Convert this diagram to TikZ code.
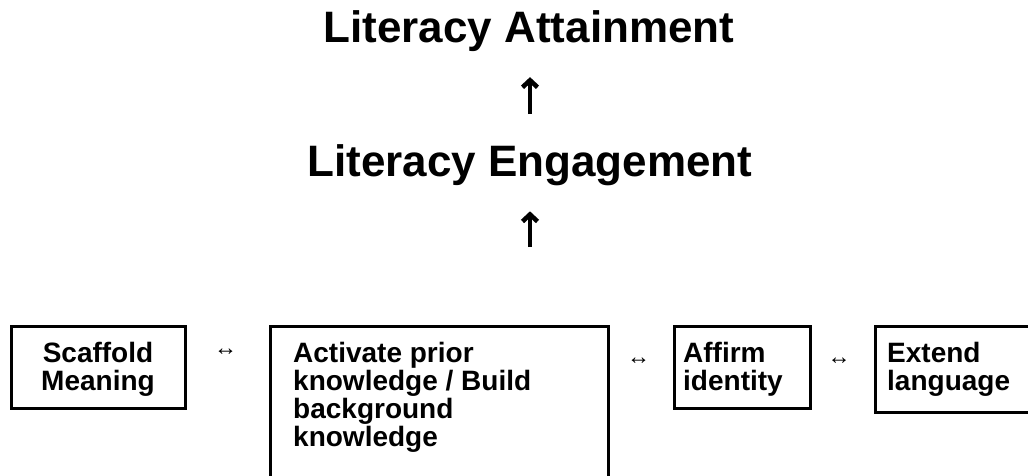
\documentclass[tikz,border=0pt]{standalone}
\usepackage{fontspec}
\setmainfont{Liberation Sans}
\usetikzlibrary{arrows.meta}
\begin{document}
\begin{tikzpicture}[x=1pt,y=-1pt,
  box/.style={draw, line width=2.8pt, inner sep=0pt, anchor=north west},
  big/.style={font=\fontsize{44}{48}\selectfont\bfseries, inner sep=0pt},
  txt/.style={font=\fontsize{28}{28}\selectfont\bfseries, inner sep=0pt},
  uparrow/.style={line width=4.6pt, -{Straight Barb[length=7pt,width=15pt]}},
  bothsym/.style={font=\fontsize{23}{23}\selectfont\bfseries, inner sep=0pt}]
\useasboundingbox (0,0) rectangle (1028,476);
% titles
\node[big, anchor=base] (att) at (529,43) {Literacy Attainment};
\node[big, anchor=base] (eng) at (530,176) {Literacy Engagement};
\coordinate (tail) at (530,247);
\draw[uparrow, shorten <=29.8pt, shorten >=24.8pt] (eng.north) -- (eng.north |- att.south);
\draw[uparrow, shorten >=25.8pt] (tail) -- (tail |- eng.south);
% boxes
\node[box, minimum width=174pt, minimum height=82pt] (scaf) at (10,325) {};
\node[box, minimum width=338pt, minimum height=170pt] (act) at (269,325) {};
\node[box, minimum width=136pt, minimum height=82pt] (aff) at (673,325) {};
\node[box, minimum width=170pt, minimum height=86pt] (ext) at (874,325) {};
% box texts
\node[txt, anchor=base, align=center] (scaft) at (98,390) {Scaffold\\Meaning};
\node[txt, anchor=base west, align=left] (actt) at (293,446) {Activate prior\\knowledge / Build\\background\\knowledge};
\node[txt, anchor=base west, align=left] (afft) at (683,390) {Affirm\\identity};
\node[txt, anchor=base west, align=left] (extt) at (887,390) {Extend\\language};
% double arrows
\node[bothsym] (b1) at (225.5,352) {↔};
\node[bothsym] (b2) at (638.5,361) {↔};
\node[bothsym] (b3) at (839,361) {↔};
\end{tikzpicture}
\end{document}
